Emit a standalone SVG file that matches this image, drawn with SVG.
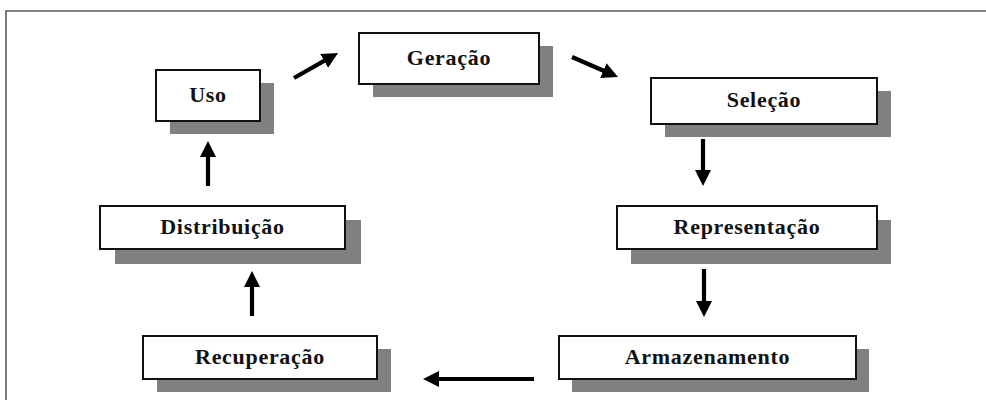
<svg xmlns="http://www.w3.org/2000/svg" width="986" height="400" viewBox="0 0 986 400">
<style>
.sh{fill:#808080;}
.bx{fill:#fff;stroke:#111;stroke-width:2;}
.lb{font-family:"Liberation Serif","Times New Roman",serif;font-weight:bold;font-size:22px;letter-spacing:0.7px;fill:#111;text-anchor:middle;}
.ar{stroke:#000;stroke-width:4.2;fill:none;marker-end:url(#ah);}
</style>
<defs>
<marker id="ah" markerUnits="userSpaceOnUse" markerWidth="16" markerHeight="16" refX="4" refY="8" orient="auto" viewBox="0 0 16 16">
<path d="M0,0 L16,8 L0,16 z" fill="#000"/>
</marker>
</defs>
<rect width="986" height="400" fill="#fff"/>
<path d="M6,400 L6,11 L986,11" fill="none" stroke="#5a5a5a" stroke-width="1.6"/>
<g id="uso">
<rect class="sh" x="170" y="83" width="104" height="51"/>
<rect class="bx" x="156" y="70" width="104" height="51"/>
<text class="lb" x="208" y="102">Uso</text>
</g>
<g id="geracao">
<rect class="sh" x="373" y="46" width="180" height="51"/>
<rect class="bx" x="359" y="33" width="180" height="51"/>
<text class="lb" x="449" y="65">Geração</text>
</g>
<g id="selecao">
<rect class="sh" x="665" y="91" width="226" height="46"/>
<rect class="bx" x="651" y="78" width="226" height="46"/>
<text class="lb" x="764" y="107">Seleção</text>
</g>
<g id="representacao">
<rect class="sh" x="631" y="220" width="260" height="44"/>
<rect class="bx" x="617" y="206" width="260" height="43"/>
<text class="lb" x="747" y="234">Representação</text>
</g>
<g id="distribuicao">
<rect class="sh" x="115" y="220" width="246" height="44"/>
<rect class="bx" x="100" y="206" width="245" height="43"/>
<text class="lb" x="222.5" y="234">Distribuição</text>
</g>
<g id="recuperacao">
<rect class="sh" x="157" y="349" width="234" height="43"/>
<rect class="bx" x="143" y="336" width="234" height="43"/>
<text class="lb" x="260" y="364">Recuperação</text>
</g>
<g id="armazenamento">
<rect class="sh" x="572" y="349" width="297" height="43"/>
<rect class="bx" x="559" y="336" width="297" height="43"/>
<text class="lb" x="707.5" y="364">Armazenamento</text>
</g>
<g id="connectors">
<line class="ar" x1="294" y1="78" x2="327.6" y2="58.9"/>
<line class="ar" x1="572" y1="57" x2="607" y2="72.2"/>
<line class="ar" x1="703" y1="139" x2="703" y2="174"/>
<line class="ar" x1="704" y1="269" x2="704" y2="305"/>
<line class="ar" x1="534" y1="379" x2="435" y2="379"/>
<line class="ar" x1="252" y1="316" x2="252" y2="283"/>
<line class="ar" x1="208" y1="186" x2="208" y2="153"/>
</g>
</svg>
